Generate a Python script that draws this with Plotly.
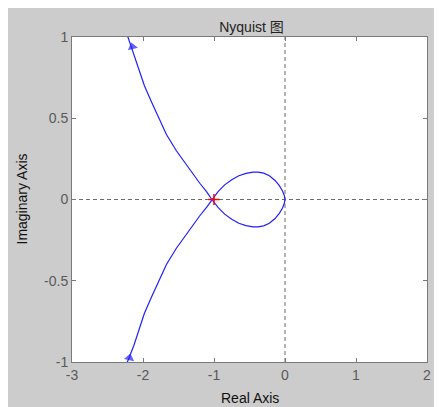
import plotly.graph_objects as go

# Positive-frequency branch (from low frequency at bottom-left, through the -1 crossing, lobe to origin)
re_pos = [-2.29, -2.22, -2.13, -2.06, -1.98, -1.88, -1.78, -1.67, -1.53, -1.37, -1.20, -1.10, -1.03,
          -0.94, -0.85, -0.75, -0.65, -0.55, -0.45, -0.38, -0.30, -0.22, -0.14, -0.08, -0.035, -0.01, 0.0]
im_pos = [-1.10, -1.00, -0.90, -0.80, -0.70, -0.60, -0.50, -0.40, -0.30, -0.20, -0.10, -0.045, 0.0,
          0.050, 0.090, 0.122, 0.146, 0.161, 0.168, 0.169, 0.162, 0.146, 0.117, 0.085, 0.052, 0.025, 0.0]

# Negative-frequency branch (from origin, lower lobe, the -1 crossing, up to top-left)
re_neg = [0.0, -0.01, -0.035, -0.08, -0.14, -0.22, -0.30, -0.38, -0.45, -0.55, -0.65, -0.75, -0.85, -0.94,
          -1.03, -1.10, -1.20, -1.37, -1.53, -1.67, -1.78, -1.88, -1.98, -2.06, -2.13, -2.22, -2.29]
im_neg = [0.0, -0.025, -0.052, -0.085, -0.117, -0.146, -0.162, -0.169, -0.168, -0.161, -0.146, -0.122, -0.090, -0.050,
          0.0, 0.045, 0.10, 0.20, 0.30, 0.40, 0.50, 0.60, 0.70, 0.80, 0.90, 1.00, 1.10]

# Direction arrows (previous point, arrow point)
arrow_top_re = [-2.11, -2.15]
arrow_top_im = [0.87, 0.94]
arrow_bot_re = [-2.215, -2.19]
arrow_bot_im = [-1.03, -0.975]

critical_re = [-1]
critical_im = [0]

x_ticks = [-3, -2, -1, 0, 1, 2]
y_ticks = [-1, -0.5, 0, 0.5, 1]
y_tick_text = ["-1", "-0.5", "0", "0.5", "1"]

FONT = "Liberation Sans, Arial, Noto Sans CJK SC, sans-serif"
BLUE = "#1f1fff"

fig = go.Figure()

fig.add_trace(go.Scatter(x=re_pos, y=im_pos, mode="lines",
                         line=dict(color=BLUE, width=1.2), hoverinfo="skip", showlegend=False))
fig.add_trace(go.Scatter(x=re_neg, y=im_neg, mode="lines",
                         line=dict(color=BLUE, width=1.2), hoverinfo="skip", showlegend=False))

for ax_re, ax_im in [(arrow_top_re, arrow_top_im), (arrow_bot_re, arrow_bot_im)]:
    fig.add_trace(go.Scatter(x=ax_re, y=ax_im, mode="markers",
                             marker=dict(symbol="triangle-up", size=[0, 9], color=BLUE,
                                         angleref="previous", line=dict(width=0)),
                             hoverinfo="skip", showlegend=False))

fig.add_trace(go.Scatter(x=critical_re, y=critical_im, mode="markers",
                         marker=dict(symbol="cross-thin", size=8, line=dict(color="red", width=1.5)),
                         hoverinfo="skip", showlegend=False))

shapes = [
    dict(type="line", xref="x", yref="y", x0=-3, x1=2, y0=0, y1=0,
         line=dict(color="#6a6a6a", width=1, dash="4px,3px"), layer="below"),
    dict(type="line", xref="x", yref="y", x0=0, x1=0, y0=-1, y1=1,
         line=dict(color="#6a6a6a", width=1, dash="4px,3px"), layer="below"),
]

# The page body adds an 8px white margin at top/left, so the figure is 8px smaller.
W, H = 434, 399
ML, MR, MT, MB = 64, 11, 29, 45
pw, ph = W - ML - MR, H - MT - MB

axis_common = dict(showgrid=False, zeroline=False, showline=True, linecolor="#7a7a7a", linewidth=1,
                   mirror="ticks", ticks="inside", ticklen=4, tickcolor="#7a7a7a", tickwidth=1,
                   tickfont=dict(family=FONT, size=14, color="#5a5a5a"))

fig.update_layout(
    width=W, height=H,
    margin=dict(l=ML, r=MR, t=MT, b=MB, pad=0),
    paper_bgcolor="#cccccc", plot_bgcolor="white",
    title=dict(text="Nyquist 图", x=(ML + pw / 2) / W, xanchor="center", y=1 - 19 / H, yanchor="middle",
               font=dict(family=FONT, size=14, color="#222222")),
    xaxis=dict(range=[-3, 2], tickvals=x_ticks, ticktext=[str(v) for v in x_ticks], **axis_common),
    yaxis=dict(range=[-1, 1], tickvals=y_ticks, ticktext=y_tick_text, **axis_common),
    shapes=shapes,
    annotations=[
        dict(text="Real Axis", xref="paper", yref="paper", x=0.5, y=0, yshift=-36,
             xanchor="center", yanchor="middle", showarrow=False,
             font=dict(family=FONT, size=14, color="#111111")),
        dict(text="Imaginary Axis", xref="paper", yref="paper", x=0, y=0.5, xshift=-(ML - 13),
             xanchor="center", yanchor="middle", textangle=-90, showarrow=False,
             font=dict(family=FONT, size=14, color="#111111")),
    ],
)

fig.write_html("out.html")
